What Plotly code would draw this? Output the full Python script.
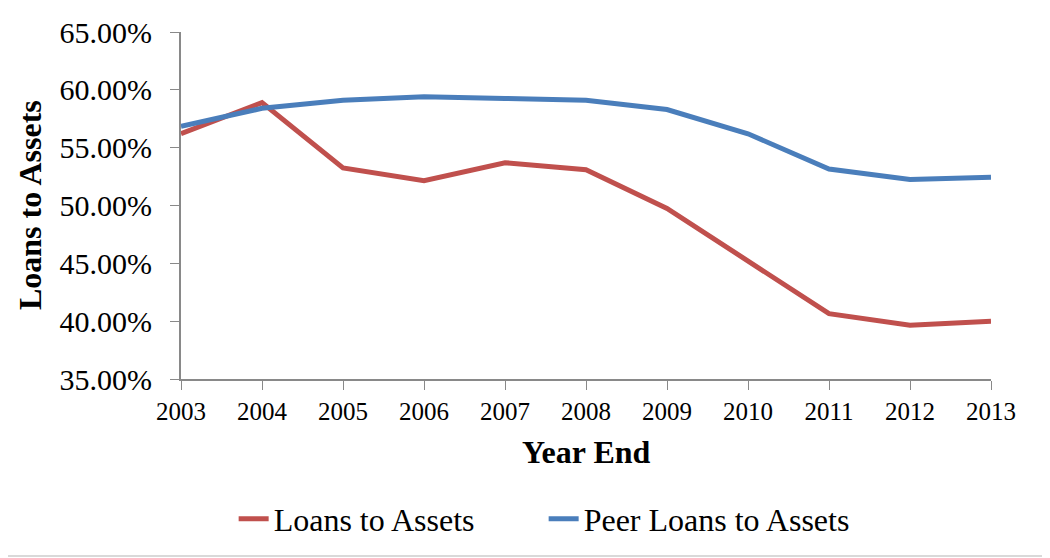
import plotly.graph_objects as go

years = ["2003", "2004", "2005", "2006", "2007", "2008", "2009", "2010", "2011", "2012", "2013"]
loans_to_assets = [56.2, 58.9, 53.25, 52.15, 53.7, 53.1, 49.75, 45.25, 40.65, 39.65, 40.0]
peer_loans_to_assets = [56.85, 58.4, 59.1, 59.4, 59.25, 59.1, 58.3, 56.2, 53.15, 52.25, 52.45]

RED = "#c0504d"
BLUE = "#4a7ebb"
AXIS = "#898989"
FONT = "Liberation Serif, Times New Roman, serif"

fig = go.Figure()
fig.add_trace(go.Scatter(x=years, y=loans_to_assets, name="Loans to Assets",
                         mode="lines", line=dict(color=RED, width=5)))
fig.add_trace(go.Scatter(x=years, y=peer_loans_to_assets, name="Peer Loans to Assets",
                         mode="lines", line=dict(color=BLUE, width=5)))

# page body has an 8px margin, so the figure is laid out 8px up/left of the target
fig.update_layout(
    width=1050,
    height=558,
    plot_bgcolor="white",
    paper_bgcolor="white",
    font=dict(family=FONT, color="black"),
    margin={"t": 24, "l": 173, "b": 187, "r": 67},
    showlegend=True,
    legend=dict(orientation="h", x=0.065, xanchor="left", y=-0.403, yanchor="middle",
                entrywidth=265, font=dict(size=32, family=FONT)),
)

fig.update_xaxes(
    type="category",
    range=[0, 10],
    automargin=False,
    showline=True, linecolor=AXIS, linewidth=2,
    ticks="outside", ticklen=9, tickcolor=AXIS, tickwidth=1,
    tickfont=dict(size=25),
    showgrid=False, zeroline=False,
)
fig.update_yaxes(
    range=[35, 65],
    dtick=5,
    tickformat=".2f",
    ticksuffix="%",
    automargin=False,
    showline=True, linecolor=AXIS, linewidth=2,
    ticks="outside", ticklen=9, tickcolor=AXIS, tickwidth=1,
    tickfont=dict(size=30),
    ticklabelstandoff=12,
    showgrid=False, zeroline=False,
)

# axis titles
fig.add_annotation(text="<b>Year End</b>", xref="paper", yref="paper", x=0.5, y=-0.21,
                   xanchor="center", yanchor="middle", showarrow=False,
                   font=dict(size=32, family=FONT))
fig.add_annotation(text="<b>Loans to Assets</b>", xref="paper", yref="paper", x=-0.187, y=0.5,
                   xanchor="center", yanchor="middle", textangle=-90, showarrow=False,
                   font=dict(size=32, family=FONT))

# thin grey rule at the bottom of the picture
fig.add_shape(type="line", xref="paper", yref="paper", x0=-0.22, x1=1.09, y0=-0.51, y1=-0.51,
              line=dict(color="#d9d9d9", width=2))

fig.write_html("out.html")
